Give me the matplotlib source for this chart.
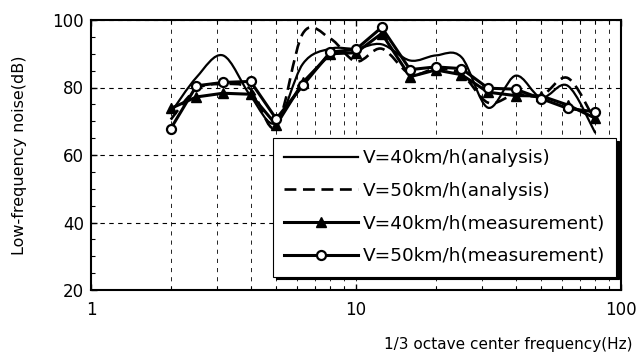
import numpy as np
import matplotlib
matplotlib.use("Agg")
import matplotlib.pyplot as plt
from matplotlib.path import Path
from matplotlib.patches import PathPatch
from matplotlib.lines import Line2D
from matplotlib.ticker import LogLocator, NullFormatter, MultipleLocator

# ---- data ----
freqs = [2, 2.5, 3.15, 4, 5, 6.3, 8, 10, 12.5, 16, 20, 25, 31.5, 40, 50, 63, 80]
ana40 = [72.5, 83, 89.5, 77.5, 69.5, 87, 91.5, 91.5, 92.8, 88, 89.5, 89, 74, 83.5, 77, 80.5, 66.5]
ana50 = [70.5, 79.5, 81, 79.5, 68.3, 96, 94.5, 87.7, 91.5, 84, 85.5, 84, 75.5, 78, 77.5, 82.8, 70]
meas40 = [73.8, 77.2, 78.3, 78, 68.9, 81.5, 90, 90.3, 96, 83.2, 85.2, 83.8, 78.6, 77.6, 77.5, 74.8, 70.9]
meas50 = [67.8, 80.5, 81.5, 81.8, 70.7, 80.6, 90.5, 91.3, 97.8, 85.3, 86.1, 85.6, 79.8, 79.5, 76.7, 73.8, 72.8]
labels = ["V=40km/h(analysis)", "V=50km/h(analysis)",
          "V=40km/h(measurement)", "V=50km/h(measurement)"]
xticks = [1, 10, 100]
xticklabels = ["1", "10", "100"]
yticks = [20, 40, 60, 80, 100]
xlabel = "1/3 octave center frequency(Hz)"
ylabel = "Low-frequency noise(dB)"

plt.rcParams['font.family'] = ['DejaVu Sans']


def smooth_path(x, y):
    """Excel-like smoothed line: Catmull-Rom Bezier in log-x space."""
    lx = np.log10(np.asarray(x, float))
    yy = np.asarray(y, float)
    P = np.column_stack([lx, yy])
    n = len(P)
    verts = [P[0]]
    codes = [Path.MOVETO]
    for i in range(n - 1):
        p0 = P[i - 1] if i > 0 else P[i]
        p1 = P[i]
        p2 = P[i + 1]
        p3 = P[i + 2] if i + 2 < n else P[i + 1]
        c1 = p1 + (p2 - p0) / 6.0
        c2 = p2 - (p3 - p1) / 6.0
        verts += [c1, c2, p2]
        codes += [Path.CURVE4] * 3
    V = np.array(verts)
    V[:, 0] = 10 ** V[:, 0]
    return Path(V, codes)


fig = plt.figure(figsize=(6.39, 3.56), dpi=100)
ax = fig.add_axes([91 / 639, 1 - 290 / 356, 530 / 639, 270 / 356])
ax.set_xscale('log')
ax.set_xlim(1, 100)
ax.set_ylim(20, 100)

# grid
ax.set_yticks(yticks)
ax.set_xticks(xticks)
ax.set_xticklabels(xticklabels)
ax.xaxis.set_minor_locator(LogLocator(base=10, subs=np.arange(2, 10)))
ax.xaxis.set_minor_formatter(NullFormatter())
ax.yaxis.set_minor_locator(MultipleLocator(5))
ax.grid(True, which='major', axis='y', color='black', linestyle=(0, (4, 4)), linewidth=0.8)
ax.grid(True, which='both', axis='x', color='black', linestyle=(0, (5, 6)), linewidth=0.6)

# analysis (smoothed)
ax.add_patch(PathPatch(smooth_path(freqs, ana40), fill=False, edgecolor='black',
                       linewidth=1.6, zorder=3))
ax.add_patch(PathPatch(smooth_path(freqs, ana50), fill=False, edgecolor='black',
                       linewidth=1.9, linestyle=(0, (4.5, 2.5)), zorder=3))
# measurement
ax.plot(freqs, meas40, color='black', linewidth=2.2, marker='^', markersize=7,
        markerfacecolor='black', markeredgecolor='black', zorder=4)
ax.plot(freqs, meas50, color='black', linewidth=2.2, marker='o', markersize=6.5,
        markerfacecolor='white', markeredgecolor='black', markeredgewidth=1.6, zorder=5)

for s in ax.spines.values():
    s.set_linewidth(1.5)
    s.set_color('black')

ax.tick_params(which='both', direction='in', top=True, right=False, labelsize=12)
ax.tick_params(which='major', length=4, width=1)
ax.tick_params(which='minor', length=3, width=0.8)
ax.tick_params(axis='x', pad=8)
ax.tick_params(axis='y', pad=5)

fig.text(508 / 639, 1 - 345 / 356, xlabel, ha='center', va='center', fontsize=11)
fig.text(20 / 639, 1 - 155 / 356, ylabel, ha='center', va='center', rotation=90, fontsize=11.5)

handles = [
    Line2D([], [], color='black', linewidth=1.6),
    Line2D([], [], color='black', linewidth=1.9, linestyle=(0, (4.5, 2.5))),
    Line2D([], [], color='black', linewidth=2.2, marker='^', markersize=7),
    Line2D([], [], color='black', linewidth=2.2, marker='o', markersize=6.5,
           markerfacecolor='white', markeredgewidth=1.6),
]
leg = fig.legend(handles, labels, loc='upper left',
                 bbox_to_anchor=(273 / 639, 1 - 138 / 356), bbox_transform=fig.transFigure,
                 fontsize=13.3, frameon=True, fancybox=False, framealpha=1,
                 edgecolor='black', handlelength=4.0, handletextpad=0.25,
                 labelspacing=0.8, borderpad=0.6, borderaxespad=0,
                 shadow={'color': 'black', 'alpha': 1})
leg.get_frame().set_linewidth(0.8)
leg.set_zorder(10)

fig.savefig('out.png', dpi=100)
